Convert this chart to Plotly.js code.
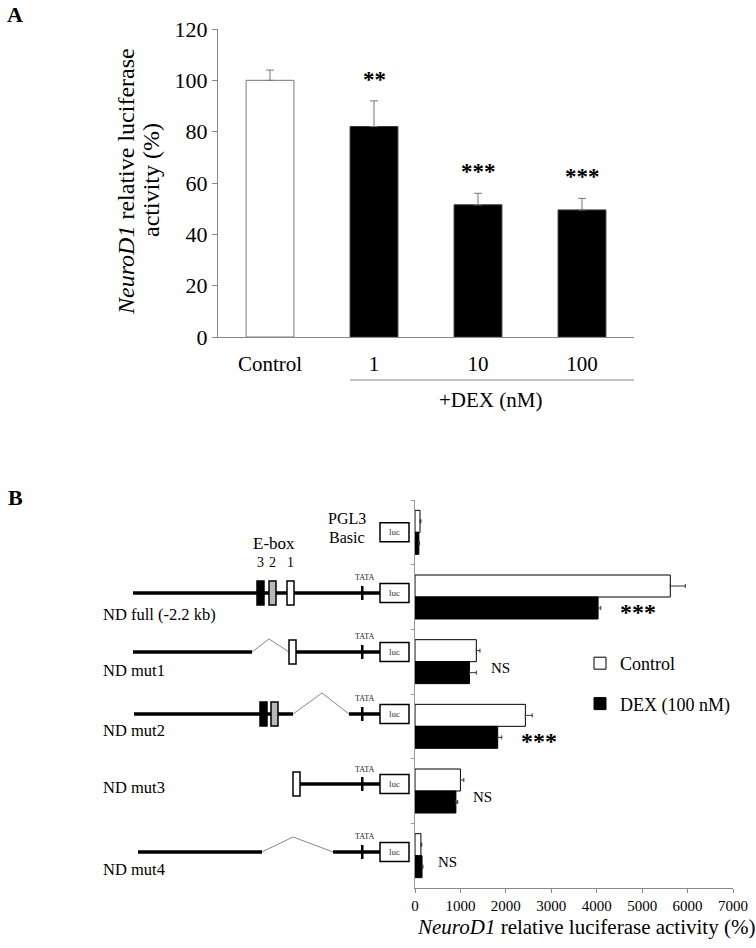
<!DOCTYPE html>
<html>
<head>
<meta charset="utf-8">
<script src="https://cdn.plot.ly/plotly-3.0.1.min.js"></script>
<style>
  html, body { margin: 0; padding: 0; background: #fff; }
  #fig { width: 756px; height: 948px; }
</style>
</head>
<body>
<div id="fig"></div>
<script>
// Panel A - NeuroD1 promoter activity vs DEX dose
const doseLabels = ['Control', '1', '10', '100'];
const doseActivity = [100, 82, 51.5, 49.5];
const doseErr = [4, 10, 4.5, 4.5];
const doseSig = ['', '**', '***', '***'];

// Panel B - deletion constructs, control vs DEX (100 nM)
const constructs = ['PGL3 Basic', 'ND full (-2.2 kb)', 'ND mut1', 'ND mut2', 'ND mut3', 'ND mut4'];
const controlActivity = [110, 5620, 1350, 2430, 1000, 130];
const controlErr = [20, 330, 80, 150, 75, 20];
const dexActivity = [85, 4030, 1200, 1820, 900, 155];
const dexErr = [15, 60, 150, 90, 40, 20];
const constructSig = ['', '***', 'NS', '***', 'NS', 'NS'];

// schematic of the constructs (diagram units, left of the bar chart)
const promoterSegs = [[], [[133, 380]], [[133, 252], [289, 380]], [[134, 293], [349, 380]], [[299, 380]], [[138, 262], [333, 380]]];
const deletionArcs = [null, null, [252, 269, 289], [293, 322, 349], null, [262, 293, 333]];
const eboxes = [[], [[3, 257], [2, 269], [1, 287]], [[1, 289]], [[3, 260], [2, 271]], [[1, 293]], []];

const FONT = 'Liberation Serif, "Times New Roman", serif';
const W = 756, H = 948;
const px = v => v / W;
const py = v => 1 - v / H;

// vertical placement of each schematic row (y3 units)
const rowY = [0.0, 0.938, 1.85, 2.809, 3.892, 4.943];
const labelY = [null, 1.263, 2.129, 3.072, 3.953, 5.221];
const arcPeak = [null, null, 1.649, 2.484, null, 4.711];
const eboxFill = {3: 'black', 2: '#b8b8b8', 1: 'white'};

const traces = [
  {
    type: 'bar', x: doseLabels, y: doseActivity, xaxis: 'x', yaxis: 'y',
    width: 0.46, showlegend: false,
    marker: { color: doseLabels.map((d, i) => i === 0 ? 'white' : 'black'), line: { color: doseLabels.map((d, i) => i === 0 ? '#777' : '#333'), width: 1 } },
    error_y: { type: 'data', symmetric: false, array: doseErr, arrayminus: doseErr.map(() => 0), color: '#777', thickness: 1, width: 4 }
  },
  {
    type: 'bar', orientation: 'h', y: constructs, x: controlActivity, xaxis: 'x2', yaxis: 'y2',
    name: 'Control', legendgroup: 'c',
    marker: { color: 'white', line: { color: 'black', width: 1 } },
    error_x: { type: 'data', symmetric: false, array: controlErr, arrayminus: controlErr.map(() => 0), color: '#333', thickness: 1, width: 2 }
  },
  {
    type: 'bar', orientation: 'h', y: constructs, x: dexActivity, xaxis: 'x2', yaxis: 'y2',
    name: 'DEX (100 nM)', legendgroup: 'd',
    marker: { color: 'black', line: { color: 'black', width: 1 } },
    error_x: { type: 'data', symmetric: false, array: dexErr, arrayminus: dexErr.map(() => 0), color: '#333', thickness: 1, width: 2 }
  }
];

const shapes = [];
const annotations = [];
const txt = (o) => Object.assign({ showarrow: false, xanchor: 'center', yanchor: 'middle' }, o);

// underline of the DEX doses
shapes.push({ type: 'line', xref: 'x', yref: 'paper', x0: 0.77, x1: 3.5, y0: py(380), y1: py(380), line: { color: '#888', width: 1 } });

// significance marks, panel A
doseSig.forEach((s, i) => {
  if (!s) return;
  annotations.push(txt({ xref: 'x', yref: 'y', x: i, y: doseActivity[i] + doseErr[i], text: '<b>' + s + '</b>',
    yanchor: 'bottom', yshift: 7, font: { family: FONT, size: 23, color: 'black' } }));
});

// significance marks, panel B
constructSig.forEach((s, i) => {
  if (!s) return;
  const big = s !== 'NS';
  annotations.push(txt({ xref: 'x2', yref: 'y2', x: dexActivity[i] + dexErr[i], y: i,
    text: big ? '<b>' + s + '</b>' : s, xanchor: 'left', xshift: big ? 17 : 13, yshift: big ? -15 : -6,
    font: { family: FONT, size: big ? 24 : 15, color: 'black' } }));
});

// schematic rows
constructs.forEach((c, i) => {
  const y = rowY[i];
  promoterSegs[i].forEach(seg => {
    shapes.push({ type: 'line', xref: 'x3', yref: 'y3', x0: seg[0], x1: seg[1], y0: y, y1: y, line: { color: 'black', width: 3.5 } });
  });
  const arc = deletionArcs[i];
  if (arc) {
    shapes.push({ type: 'path', xref: 'x3', yref: 'y3', path: `M${arc[0]},${y} L${arc[1]},${arcPeak[i]} L${arc[2]},${y}`,
      line: { color: '#888', width: 1 } });
  }
  eboxes[i].forEach(e => {
    shapes.push({ type: 'rect', xref: 'x3', yref: 'y3', x0: e[1], x1: e[1] + 7, ysizemode: 'pixel', yanchor: y, y0: -12, y1: 12,
      fillcolor: eboxFill[e[0]], line: { color: 'black', width: 1.5 } });
  });
  if (i > 0) {
    shapes.push({ type: 'rect', xref: 'x3', yref: 'y3', x0: 361, x1: 363.5, ysizemode: 'pixel', yanchor: y, y0: -7, y1: 7,
      fillcolor: 'black', line: { width: 0 } });
    annotations.push(txt({ xref: 'x3', yref: 'y3', x: 364, y: y, yshift: 15, text: 'TATA', font: { family: FONT, size: 8, color: '#222' } }));
    annotations.push(txt({ xref: 'x3', yref: 'y3', x: 101, y: labelY[i], text: c, xanchor: 'left', font: { family: FONT, size: 16.5, color: 'black' } }));
  }
  shapes.push({ type: 'rect', xref: 'x3', yref: 'y3', x0: 380, x1: 409, ysizemode: 'pixel', yanchor: y, y0: -9.5, y1: 9.5,
    fillcolor: 'white', line: { color: 'black', width: 1.5 } });
  annotations.push(txt({ xref: 'x3', yref: 'y3', x: 394.5, y: y, text: 'luc', font: { family: FONT, size: 9, color: '#333' } }));
});

// E-box header and numbers
annotations.push(txt({ xref: 'x3', yref: 'y3', x: 274, y: 0.18, text: 'E-box', font: { family: FONT, size: 17, color: 'black' } }));
eboxes[1].forEach(e => {
  annotations.push(txt({ xref: 'x3', yref: 'y3', x: e[1] + 3.5, y: 0.459, text: String(e[0]), font: { family: FONT, size: 14, color: 'black' } }));
});
annotations.push(txt({ xref: 'x3', yref: 'y3', x: 347, y: -0.22, text: 'PGL3', font: { family: FONT, size: 16, color: 'black' } }));
annotations.push(txt({ xref: 'x3', yref: 'y3', x: 347, y: 0.08, text: 'Basic', font: { family: FONT, size: 16, color: 'black' } }));

// titles and panel letters
annotations.push(txt({ xref: 'paper', yref: 'paper', x: px(15), y: py(14), text: '<b>A</b>', font: { family: FONT, size: 22, color: 'black' } }));
annotations.push(txt({ xref: 'paper', yref: 'paper', x: px(15), y: py(497), text: '<b>B</b>', font: { family: FONT, size: 22, color: 'black' } }));
annotations.push(txt({ xref: 'paper', yref: 'paper', x: px(126), y: py(182), textangle: -90,
  text: '<i>NeuroD1</i> relative luciferase', font: { family: FONT, size: 24, color: 'black' } }));
annotations.push(txt({ xref: 'paper', yref: 'paper', x: px(151), y: py(180), textangle: -90,
  text: 'activity (%)', font: { family: FONT, size: 24, color: 'black' } }));
annotations.push(txt({ xref: 'paper', yref: 'paper', x: px(490), y: py(400), text: '+DEX (nM)', font: { family: FONT, size: 21, color: 'black' } }));
annotations.push(txt({ xref: 'paper', yref: 'paper', x: px(586), y: py(927), text: '<i>NeuroD1</i> relative luciferase activity (%)',
  font: { family: FONT, size: 21, color: 'black' } }));

const layout = {
  width: W, height: H,
  margin: { l: 0, r: 0, t: 0, b: 0 },
  paper_bgcolor: 'white', plot_bgcolor: 'rgba(0,0,0,0)',
  font: { family: FONT, color: 'black' },
  barmode: 'group', bargap: 0.32, bargroupgap: 0,
  showlegend: true,
  legend: { x: px(580), y: py(645), xanchor: 'left', yanchor: 'top', font: { family: FONT, size: 18 }, tracegroupgap: 14, bgcolor: 'rgba(0,0,0,0)' },
  xaxis: { domain: [px(218), px(634)], anchor: 'y', type: 'category', range: [-0.5, 3.5], showline: true, linecolor: '#888', ticks: '',
    tickfont: { family: FONT, size: 21 }, ticklabelstandoff: 8, showgrid: false, zeroline: false },
  yaxis: { domain: [py(337), py(29)], anchor: 'x', range: [0, 120], dtick: 20, showline: true, linecolor: '#888',
    ticks: 'outside', ticklen: 5, tickcolor: '#888', tickfont: { family: FONT, size: 22 }, showgrid: false, zeroline: false },
  xaxis2: { domain: [px(415), px(733)], anchor: 'y2', range: [0, 7000], dtick: 1000, showline: true, linecolor: '#888',
    ticks: 'outside', ticklen: 4, tickcolor: '#888', tickfont: { family: FONT, size: 15 }, showgrid: false, zeroline: false },
  yaxis2: { domain: [py(888), py(500)], anchor: 'x2', type: 'category', range: [5.5, -0.5], showline: true, linecolor: '#999',
    ticks: 'outside', ticklen: 3, tickcolor: '#999', tickson: 'boundaries', showticklabels: false, showgrid: false, zeroline: false },
  xaxis3: { domain: [0, px(415)], anchor: 'y3', range: [0, 415], visible: false },
  yaxis3: { domain: [py(888), py(500)], anchor: 'x3', range: [5.5, -0.5], visible: false },
  shapes: shapes,
  annotations: annotations
};

Plotly.newPlot('fig', traces, layout, { staticPlot: true });
</script>
</body>
</html>
